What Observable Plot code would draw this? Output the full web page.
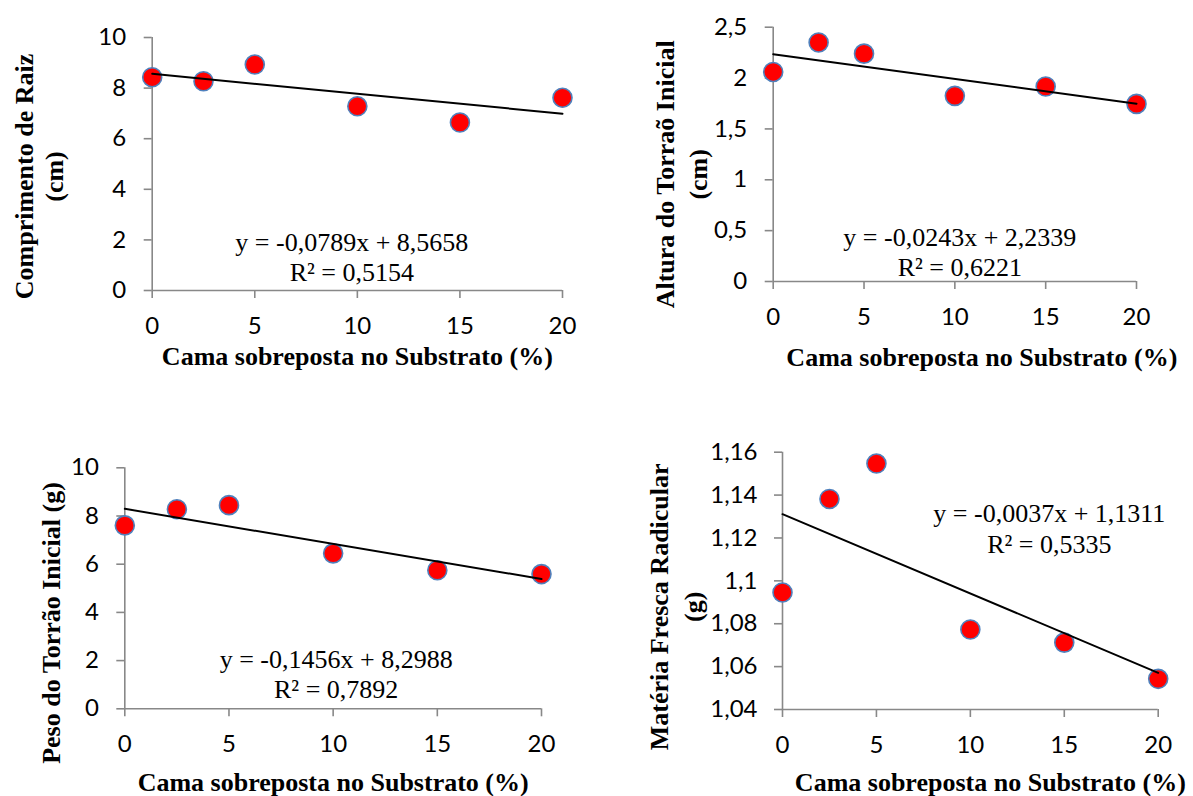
<!DOCTYPE html>
<html><head><meta charset="utf-8">
<script src="https://cdn.jsdelivr.net/npm/d3@7"></script>
<script src="https://cdn.jsdelivr.net/npm/@observablehq/plot@0.6"></script>
<style>
body{margin:0;background:#fff;}
#chart{position:relative;width:1193px;height:796px;overflow:hidden;background:#fff;}
.panel{position:absolute;}
.panel svg{overflow:visible;}
</style></head><body><div id="chart"></div>
<script>
// ---------- data ----------
const xLevels = [0, 2.5, 5, 10, 15, 20];
const xTicks = [0, 5, 10, 15, 20];
const xTitle = "Cama sobreposta no Substrato (%)";

const raizValues    = [8.43, 8.27, 8.93, 7.28, 6.64, 7.62];
const alturaValues  = [2.06, 2.35, 2.24, 1.825, 1.917, 1.746];
const pesoValues    = [7.61, 8.28, 8.45, 6.45, 5.75, 5.59];
const materiaValues = [1.0946, 1.1382, 1.1547, 1.0773, 1.0712, 1.0543];

const raizTicks    = [0, 2, 4, 6, 8, 10];
const alturaTicks  = [0, 0.5, 1, 1.5, 2, 2.5];
const pesoTicks    = [0, 2, 4, 6, 8, 10];
const materiaTicks = [1.04, 1.06, 1.08, 1.1, 1.12, 1.14, 1.16];

const yTitles = [
  "Comprimento de Raiz\n(cm)",
  "Altura do Torraõ Inicial\n(cm)",
  "Peso do Torrão Inicial (g)",
  "Matéria Fresca Radicular\n(g)"
];
const slopes     = [-0.0789, -0.0243, -0.1456, -0.0037];
const intercepts = [8.5658, 2.2339, 8.2988, 1.1311];
const equations  = ["y = -0,0789x + 8,5658", "y = -0,0243x + 2,2339", "y = -0,1456x + 8,2988", "y = -0,0037x + 1,1311"];
const r2Labels   = ["R² = 0,5154", "R² = 0,6221", "R² = 0,7892", "R² = 0,5335"];

const seriesList = [raizValues, alturaValues, pesoValues, materiaValues];
const tickList = [raizTicks, alturaTicks, pesoTicks, materiaTicks];

// ---------- layout / style ----------
const axisColor = "#888888";
const layout = [
  {left:0,   top:0,   width:596, height:398, mL:151.7, mR:34,   mT:37,   mB:108,  yPad:18,
   yTdx:-113.7, yTdy:12.5, yLh:1.15, xTdx:0,  xTdy:66,   eqAnchor:"bottom", eqDx:-5.5, eqDy:[-48.3,-18.3]},
  {left:596, top:0,   width:597, height:398, mL:176.7, mR:57,   mT:26.7, mB:117,  yPad:18,
   yTdx:-93.2,  yTdy:20,   yLh:1.27, xTdx:27, xTdy:75.7, eqAnchor:"bottom", eqDx:5,    eqDy:[-44.3,-14.3]},
  {left:0,   top:398, width:596, height:398, mL:124.3, mR:55,   mT:69.3, mB:87.7, yPad:18,
   yTdx:-74.3,  yTdy:34.7, yLh:1.15, xTdx:0,  xTdy:73.5, eqAnchor:"bottom", eqDx:3,    eqDy:[-49,-19]},
  {left:596, top:398, width:597, height:398, mL:186,   mR:35.3, mT:53.7, mB:87,   yPad:17,
   yTdx:-108,   yTdy:26,   yLh:1.3,  xTdx:20, xTdy:73,   eqAnchor:"top",    eqDx:79,   eqDy:[61.6,92.3]}
];

const fmt = d => String(d).replace(".", ",");
const serif = "'Liberation Serif', 'Times New Roman', serif";

function makePanel(i) {
  const L = layout[i];
  const ticks = tickList[i];
  const yDomain = d3.extent(ticks);
  const pts = xLevels.map((x, j) => ({x, y: seriesList[i][j]}));
  const m = slopes[i], b = intercepts[i];
  const plot = Plot.plot({
    width: L.width, height: L.height,
    marginLeft: L.mL, marginRight: L.mR, marginTop: L.mT, marginBottom: L.mB,
    style: {fontFamily: "Lato, sans-serif", fontSize: "24px", color: "#000", background: "white", overflow: "visible"},
    x: {domain: [0, 20]},
    y: {domain: yDomain},
    marks: [
      Plot.ruleX([0], {stroke: axisColor, strokeWidth: 1.6}),
      Plot.ruleY([yDomain[0]], {stroke: axisColor, strokeWidth: 1.6}),
      Plot.axisY({ticks, tickSize: 8, tickPadding: L.yPad, tickFormat: fmt, stroke: axisColor, strokeWidth: 1.6, fill: "#000", label: null, fontSize: 24}),
      Plot.axisX({ticks: xTicks, tickSize: 8, tickPadding: 18, tickFormat: fmt, stroke: axisColor, strokeWidth: 1.6, fill: "#000", label: null, fontSize: 24}),
      Plot.dot(pts, {x: "x", y: "y", r: 9.5, fill: "#ff0000", stroke: "#4f81bd", strokeWidth: 1.6}),
      Plot.line(d3.extent(xLevels), {x: d => d, y: d => b + m * d, stroke: "#000", strokeWidth: 2}),
      Plot.text([equations[i]], {text: d => d, frameAnchor: L.eqAnchor, dx: L.eqDx, dy: L.eqDy[0], textAnchor: "middle", fontFamily: serif, fontSize: 26, fill: "#000", lineAnchor: "middle"}),
      Plot.text([r2Labels[i]], {text: d => d, frameAnchor: L.eqAnchor, dx: L.eqDx, dy: L.eqDy[1], textAnchor: "middle", fontFamily: serif, fontSize: 26, fill: "#000", lineAnchor: "middle"}),
      Plot.text([xTitle], {text: d => d, frameAnchor: "bottom", dx: L.xTdx, dy: L.xTdy, textAnchor: "middle", fontFamily: serif, fontWeight: "bold", fontSize: 26, fill: "#000", lineAnchor: "middle"}),
      Plot.text([yTitles[i]], {text: d => d, frameAnchor: "left", rotate: -90, dx: L.yTdx, dy: L.yTdy, lineHeight: L.yLh, textAnchor: "middle", fontFamily: serif, fontWeight: "bold", fontSize: 26, fill: "#000", lineAnchor: "middle"})
    ]
  });
  const div = document.createElement("div");
  div.className = "panel";
  div.style.left = L.left + "px";
  div.style.top = L.top + "px";
  div.style.width = L.width + "px";
  div.style.height = L.height + "px";
  div.appendChild(plot);
  document.getElementById("chart").appendChild(div);
}
[0, 1, 2, 3].forEach(makePanel);
</script>
</body></html>
